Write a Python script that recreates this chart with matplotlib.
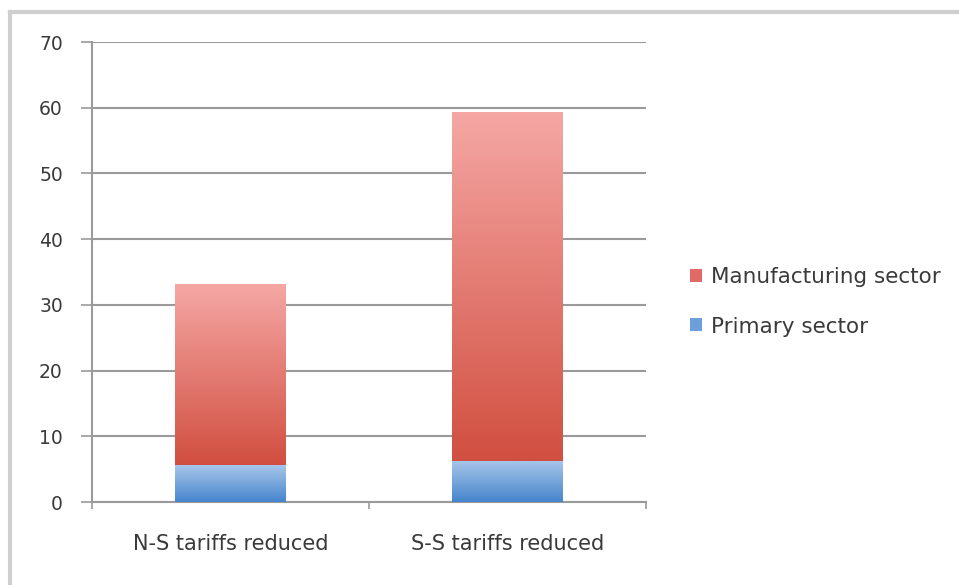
import numpy as np
import matplotlib
matplotlib.use("Agg")
import matplotlib.pyplot as plt
from matplotlib.patches import Patch
from matplotlib.lines import Line2D
from matplotlib.colors import LinearSegmentedColormap

categories = ["N-S tariffs reduced", "S-S tariffs reduced"]
primary = [5.6, 6.3]
manufacturing = [27.5, 53.0]
series_names = ["Manufacturing sector", "Primary sector"]
yticks = [0, 10, 20, 30, 40, 50, 60, 70]

W, H = 959, 585
fig = plt.figure(figsize=(W / 100, H / 100), dpi=100)
fig.patch.set_facecolor("white")
ax = fig.add_axes([92 / W, 1 - 502 / H, (646 - 92) / W, (502 - 42) / H])

plt.rcParams["font.family"] = ["DejaVu Sans"]
txtcol = "#3a3a3a"
gridcol = "#9a9a9a"

x = np.arange(len(categories))
bw = 0.4
b1 = ax.bar(x, primary, width=bw, color="none", edgecolor="none", zorder=3)
b2 = ax.bar(x, manufacturing, width=bw, bottom=primary, color="none", edgecolor="none", zorder=3)

cmap_red = LinearSegmentedColormap.from_list("r", ["#d14f40", "#f5a7a4"])
cmap_blue = LinearSegmentedColormap.from_list("b", ["#4585cc", "#a8c6ea"])
grad = np.linspace(0, 1, 256).reshape(-1, 1)
for bars, cmap in ((b1, cmap_blue), (b2, cmap_red)):
    for p in bars:
        x0, y0 = p.get_x(), p.get_y()
        w, h = p.get_width(), p.get_height()
        im = ax.imshow(grad, cmap=cmap, origin="lower", aspect="auto",
                       extent=(x0, x0 + w, y0, y0 + h), zorder=3)
        im.set_clip_path(p)
        ax.add_patch(p)

ax.set_xlim(-0.5, len(categories) - 0.5)
ax.set_ylim(0, 70)
ax.set_yticks(yticks)
ax.set_yticklabels([str(v) for v in yticks])
ax.set_xticks(x)
ax.set_xticklabels(categories)
ax.set_xticks([-0.5, 0.5, 1.5], minor=True)
ax.tick_params(axis="x", which="major", length=0, pad=23, labelsize=15, labelcolor=txtcol)
ax.tick_params(axis="x", which="minor", length=5, width=1.2, color=gridcol, direction="out")
ax.tick_params(axis="y", length=8, width=1.2, color=gridcol, labelsize=13.5, labelcolor=txtcol, pad=13)
ax.yaxis.grid(True, color=gridcol, linewidth=1.5, zorder=0)
ax.set_axisbelow(True)
for s in ["top", "right"]:
    ax.spines[s].set_visible(False)
for s in ["left", "bottom"]:
    ax.spines[s].set_color(gridcol)
    ax.spines[s].set_linewidth(1.5)

handles = [Patch(facecolor="#e16a66", edgecolor="none"),
           Patch(facecolor="#6c9fdc", edgecolor="none")]
fig.legend(handles, series_names, loc="center left",
           bbox_to_anchor=(671 / W, 1 - 302 / H), frameon=False,
           fontsize=15.5, labelcolor=txtcol, handlelength=0.55, handleheight=0.55,
           handletextpad=0.4, labelspacing=1.35)

bc = "#cfcfcf"
fig.add_artist(Line2D([10 / W, 1], [1 - 12 / H, 1 - 12 / H], color=bc, linewidth=3,
                      transform=fig.transFigure))
fig.add_artist(Line2D([10 / W, 10 / W], [0, 1 - 12 / H], color=bc, linewidth=3,
                      transform=fig.transFigure))

fig.savefig("out.png", dpi=100)
